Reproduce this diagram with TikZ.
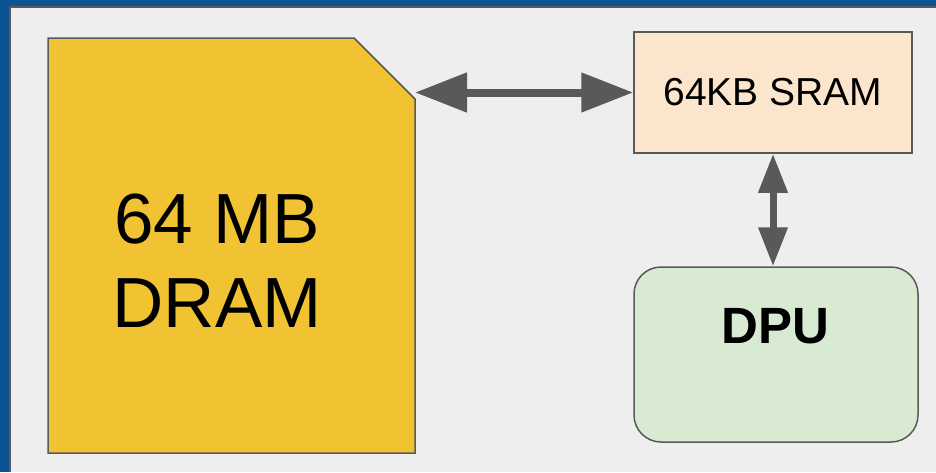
\documentclass[tikz,border=0pt]{standalone}
\usepackage{fontspec}
\setmainfont{Liberation Sans}
\usetikzlibrary{arrows.meta}
\definecolor{slidegray}{HTML}{EEEEEE}
\definecolor{frameblue}{HTML}{0B5394}
\definecolor{edgegray}{HTML}{595959}
\definecolor{dramyellow}{HTML}{F1C232}
\definecolor{srampeach}{HTML}{FCE5CD}
\definecolor{dpugreen}{HTML}{D9EAD3}
\begin{document}
\begin{tikzpicture}[x=1pt,y=-1pt,
    box/.style={draw=edgegray,line width=1.5pt,inner sep=0pt},
    bus/.style={draw=edgegray,line width=8pt,{Triangle[length=52pt,width=38pt]}-{Triangle[length=52pt,width=38pt]}},
    busv/.style={draw=edgegray,line width=7pt,{Triangle[length=39pt,width=28pt]}-{Triangle[length=39pt,width=28pt]}}]
    \useasboundingbox (0,0) rectangle (936,472);
    \fill[slidegray] (0,0) rectangle (936,472);
    \fill[frameblue] (0,0) rectangle (936,6);
    \fill[frameblue] (0,0) rectangle (9,472);
    \draw[edgegray,line width=1.5pt] (10,472) -- (10,6.75) -- (936,6.75);

    \draw[box,fill=dramyellow,line join=miter] (48,38) -- (354,38) -- (415,99) -- (415,453) -- (48,453) -- cycle;
    \node[align=center,font=\fontsize{71}{84}\selectfont] (dram) at (217,261) {64 MB\\DRAM};
    \coordinate (dramport) at (415,92.5);

    \node[box,fill=srampeach,minimum width=278pt,minimum height=121pt] (sram) at (773,92.5) {};
    \node[font=\fontsize{39}{47}\selectfont] (sramlabel) at (sram.center) {64KB SRAM};

    \node[box,fill=dpugreen,rounded corners=27pt,minimum width=284pt,minimum height=175pt] (dpu) at (776,354.5) {};
    \node[font=\fontsize{51}{61}\selectfont\bfseries] (dpulabel) at (775.5,326) {DPU};

    \draw[bus] (dramport) -- (sram.west);
    \draw[busv] (sram.south) -- (sram.south |- dpu.north);
\end{tikzpicture}
\end{document}
